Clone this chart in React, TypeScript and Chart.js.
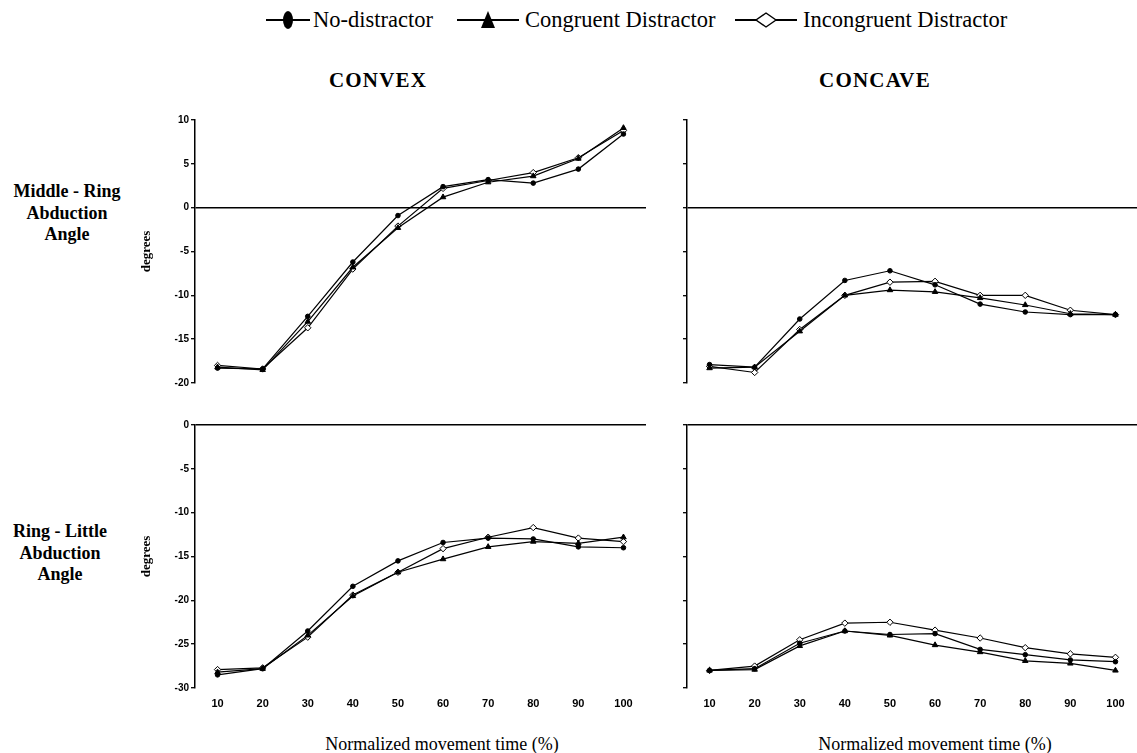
import React, { useEffect, useRef } from "react";
import { Chart, registerables } from "chart.js";

Chart.register(...registerables);

// ---------- data ----------
const timeLabels = ["10", "20", "30", "40", "50", "60", "70", "80", "90", "100"];
const seriesNames = ["No-distractor", "Congruent Distractor", "Incongruent Distractor"];
const columnTitles = ["CONVEX", "CONCAVE"];
const rowTitles = [["Middle - Ring", "Abduction", "Angle"], ["Ring - Little", "Abduction", "Angle"]];
const yTitle = "degrees";
const xTitle = "Normalized movement time (%)";

const topTicks = [-20, -15, -10, -5, 0, 5, 10];
const bottomTicks = [-30, -25, -20, -15, -10, -5, 0];

// Middle - Ring abduction, CONVEX
const mrConvexNo = [-18.3, -18.4, -12.4, -6.2, -0.9, 2.4, 3.2, 2.8, 4.4, 8.4];
const mrConvexCong = [-18.2, -18.5, -13.0, -6.8, -2.3, 1.2, 2.9, 3.6, 5.6, 9.1];
const mrConvexIncong = [-18.0, -18.4, -13.7, -7.0, -2.1, 2.2, 3.1, 4.0, 5.7, 8.8];

// Middle - Ring abduction, CONCAVE
const mrConcaveNo = [-17.9, -18.2, -12.7, -8.3, -7.2, -8.8, -11.0, -11.9, -12.2, -12.2];
const mrConcaveCong = [-18.3, -18.2, -14.1, -10.0, -9.4, -9.6, -10.3, -11.1, -12.1, -12.2];
const mrConcaveIncong = [-18.1, -18.8, -13.9, -10.0, -8.5, -8.4, -10.0, -10.0, -11.7, -12.2];

// Ring - Little abduction, CONVEX
const rlConvexNo = [-28.5, -27.8, -23.5, -18.4, -15.5, -13.4, -12.9, -13.0, -13.9, -14.0];
const rlConvexCong = [-28.2, -27.8, -24.0, -19.5, -16.8, -15.3, -13.9, -13.3, -13.5, -12.8];
const rlConvexIncong = [-27.9, -27.7, -24.2, -19.4, -16.8, -14.1, -12.8, -11.7, -12.9, -13.3];

// Ring - Little abduction, CONCAVE
const rlConcaveNo = [-28.0, -27.8, -24.9, -23.5, -23.9, -23.8, -25.6, -26.2, -26.8, -27.0];
const rlConcaveCong = [-28.0, -27.9, -25.2, -23.5, -24.0, -25.1, -25.9, -26.9, -27.2, -28.0];
const rlConcaveIncong = [-28.0, -27.5, -24.5, -22.6, -22.5, -23.4, -24.3, -25.4, -26.1, -26.5];

// ---------- styles ----------
const SERIF = "'Liberation Serif', 'DejaVu Serif', serif";
const SANS = "'Liberation Sans', Arial, sans-serif";

type PanelProps = {
  left: number;
  top: number;
  width: number;
  height: number;
  no: number[];
  cong: number[];
  incong: number[];
  ticks: number[];
  showYLabels: boolean;
  showXLabels: boolean;
};

function Panel(props: PanelProps) {
  const ref = useRef<HTMLCanvasElement | null>(null);
  useEffect(() => {
    if (!ref.current) return;
    const yMin = Math.min(...props.ticks);
    const yMax = Math.max(...props.ticks);
    const common = {
      borderColor: "#000",
      borderWidth: 1.2,
      pointBorderColor: "#000",
      pointBorderWidth: 1,
      tension: 0,
      fill: false,
    };
    const chart = new Chart(ref.current, {
      type: "line",
      data: {
        labels: timeLabels,
        datasets: [
          {
            ...common,
            label: seriesNames[0],
            data: props.no,
            pointStyle: "circle",
            pointRadius: 2.3,
            pointBackgroundColor: "#000",
          },
          {
            ...common,
            label: seriesNames[1],
            data: props.cong,
            pointStyle: "triangle",
            pointRadius: 3.2,
            pointBackgroundColor: "#000",
          },
          {
            ...common,
            label: seriesNames[2],
            data: props.incong,
            pointStyle: "rectRot",
            pointRadius: 3.2,
            pointBackgroundColor: "#fff",
          },
        ],
      },
      options: {
        responsive: false,
        animation: false,
        devicePixelRatio: 1,
        layout: {
          padding: {
            top: 10,
            bottom: props.showXLabels ? 0 : 10,
            left: props.showYLabels ? 0 : 6,
            right: 0,
          },
        },
        plugins: {
          legend: { display: false },
          tooltip: { enabled: false },
        },
        scales: {
          x: {
            type: "category",
            offset: true,
            display: props.showXLabels,
            grid: { display: false, drawTicks: false },
            border: { display: false },
            ticks: {
              padding: 9,
              autoSkip: false,
              maxRotation: 0,
              color: "#000",
              font: { family: SANS, size: 11, weight: "bold" },
            },
            afterFit: (s: any) => {
              s.height = props.showXLabels ? 25 : 0;
            },
          },
          y: {
            type: "linear",
            min: yMin,
            max: yMax,
            afterBuildTicks: (s: any) => {
              s.ticks = props.ticks.map((v) => ({ value: v }));
            },
            afterFit: (s: any) => {
              s.width = props.showYLabels ? 65 : 4;
            },
            grid: {
              drawOnChartArea: true,
              drawTicks: true,
              tickLength: 4,
              tickColor: "#000",
              tickWidth: 1.3,
              lineWidth: 1.4,
              color: (ctx: any) =>
                ctx.tick && ctx.tick.value === 0 ? "#000" : "rgba(0,0,0,0)",
            },
            border: { display: true, color: "#000", width: 1.5 },
            ticks: {
              display: props.showYLabels,
              padding: 2,
              color: "#000",
              font: { family: SANS, size: 10, weight: "bold" },
              callback: (v: any) => String(v),
            },
            title: {
              display: props.showYLabels,
              text: yTitle,
              color: "#000",
              font: { family: SERIF, size: 13, weight: "bold" },
              padding: { top: 9, bottom: 0 },
            },
          },
        },
      },
    } as any);
    return () => chart.destroy();
  }, []);
  return (
    <div
      style={{
        position: "absolute",
        left: props.left,
        top: props.top,
        width: props.width,
        height: props.height,
      }}
    >
      <canvas ref={ref} width={props.width} height={props.height} />
    </div>
  );
}

function LegendMarker({ kind, width }: { kind: string; width: number }) {
  const cy = 15;
  const cx = width / 2;
  let shape: any = null;
  if (kind === "ellipse") {
    shape = <ellipse cx={cx} cy={cy} rx={5} ry={9} fill="#000" />;
  } else if (kind === "triangle") {
    shape = (
      <polygon
        points={`${cx},${cy - 9} ${cx - 7},${cy + 8} ${cx + 7},${cy + 8}`}
        fill="#000"
      />
    );
  } else {
    shape = (
      <polygon
        points={`${cx},${cy - 7} ${cx + 10},${cy} ${cx},${cy + 7} ${cx - 10},${cy}`}
        fill="#fff"
        stroke="#000"
        strokeWidth={1.4}
      />
    );
  }
  return (
    <svg width={width} height={30} style={{ display: "block" }}>
      <line x1={0} y1={cy} x2={width} y2={cy} stroke="#000" strokeWidth={2} />
      {shape}
    </svg>
  );
}

const legendLayout = [
  { kind: "ellipse", svgLeft: 266, svgWidth: 44, textLeft: 313 },
  { kind: "triangle", svgLeft: 457, svgWidth: 62, textLeft: 525 },
  { kind: "diamond", svgLeft: 735, svgWidth: 62, textLeft: 803 },
];

export default function App() {
  const textBase: React.CSSProperties = {
    position: "absolute",
    color: "#000",
    whiteSpace: "nowrap",
  };
  return (
    <div
      style={{
        position: "fixed",
        left: 0,
        top: 0,
        width: 1137,
        height: 753,
        overflow: "hidden",
        background: "#fff",
      }}
    >
      {/* legend */}
      {seriesNames.map((name, i) => (
        <React.Fragment key={name}>
          <div style={{ position: "absolute", left: legendLayout[i].svgLeft, top: 5 }}>
            <LegendMarker kind={legendLayout[i].kind} width={legendLayout[i].svgWidth} />
          </div>
          <div
            style={{
              ...textBase,
              left: legendLayout[i].textLeft,
              top: 5,
              height: 30,
              lineHeight: "30px",
              fontFamily: SERIF,
              fontSize: 22.5,
            }}
          >
            {name}
          </div>
        </React.Fragment>
      ))}

      {/* column titles */}
      {[378, 875].map((cx, i) => (
        <div
          key={columnTitles[i]}
          style={{
            ...textBase,
            left: cx - 100,
            width: 200,
            top: 66,
            lineHeight: "28px",
            textAlign: "center",
            fontFamily: SERIF,
            fontWeight: "bold",
            fontSize: 21,
            letterSpacing: 1.2,
          }}
        >
          {columnTitles[i]}
        </div>
      ))}

      {/* row titles */}
      {[
        { cx: 67, top: 181 },
        { cx: 60, top: 521 },
      ].map((p, i) => (
        <div
          key={i}
          style={{
            ...textBase,
            left: p.cx - 80,
            width: 160,
            top: p.top,
            lineHeight: "21.7px",
            textAlign: "center",
            fontFamily: SERIF,
            fontWeight: "bold",
            fontSize: 18,
          }}
        >
          {rowTitles[i].map((line) => (
            <div key={line}>{line}</div>
          ))}
        </div>
      ))}

      {/* panels */}
      <Panel left={130} top={110} width={521} height={283} no={mrConvexNo} cong={mrConvexCong} incong={mrConvexIncong} ticks={topTicks} showYLabels={true} showXLabels={false} />
      <Panel left={677} top={110} width={466} height={283} no={mrConcaveNo} cong={mrConcaveCong} incong={mrConcaveIncong} ticks={topTicks} showYLabels={false} showXLabels={false} />
      <Panel left={130} top={415} width={521} height={298} no={rlConvexNo} cong={rlConvexCong} incong={rlConvexIncong} ticks={bottomTicks} showYLabels={true} showXLabels={true} />
      <Panel left={677} top={415} width={466} height={298} no={rlConcaveNo} cong={rlConcaveCong} incong={rlConcaveIncong} ticks={bottomTicks} showYLabels={false} showXLabels={true} />

      {/* x axis titles */}
      {[442, 935].map((cx, i) => (
        <div
          key={"xt" + i}
          style={{
            ...textBase,
            left: cx - 150,
            width: 300,
            top: 733,
            lineHeight: "22px",
            textAlign: "center",
            fontFamily: SERIF,
            fontSize: 18,
          }}
        >
          {xTitle}
        </div>
      ))}
    </div>
  );
}
